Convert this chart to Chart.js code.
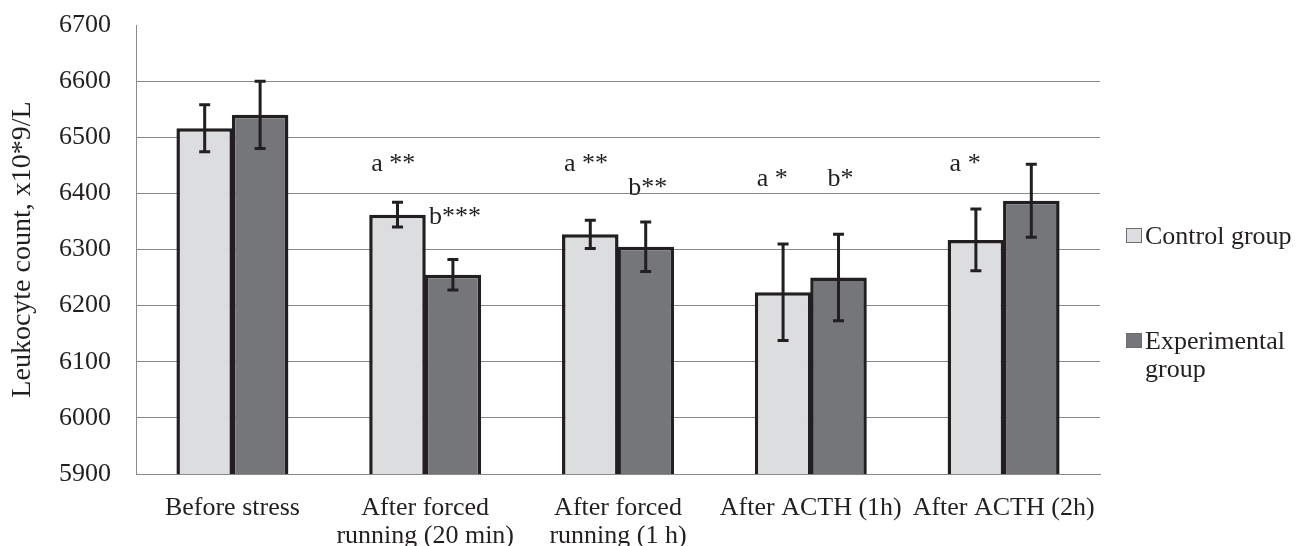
<!DOCTYPE html>
<html>
<head>
<meta charset="utf-8">
<script src="https://cdn.jsdelivr.net/npm/chart.js@4.4.1/dist/chart.umd.min.js"></script>
<style>
  html, body { margin: 0; padding: 0; background: #fff; }
  #wrap { position: relative; width: 1298px; height: 546px; }
</style>
</head>
<body>
<div id="wrap"><canvas id="chart" width="1298" height="546"></canvas></div>
<script>
const categories = [
  'Before stress',
  ['After forced', 'running (20 min)'],
  ['After forced', 'running (1 h)'],
  'After ACTH (1h)',
  'After ACTH (2h)'
];
const controlValues = [6516, 6362, 6327, 6224, 6317];
const controlErrors = [42, 22, 25, 86, 55];
const experimentalValues = [6540, 6255, 6305, 6250, 6387];
const experimentalErrors = [60, 27, 44, 77, 65];
const yTicks = [5900, 6000, 6100, 6200, 6300, 6400, 6500, 6600, 6700];

// significance marks: text, series (0 control, 1 experimental), category, level
const markTexts = ['a **', 'b***', 'a **', 'b**', 'a *', 'b*', 'a *'];
const markSeries = [0, 1, 0, 1, 0, 1, 0];
const markCategory = [1, 1, 2, 2, 3, 3, 4];
const markLevels = [6440, 6345, 6440, 6397, 6413, 6413, 6440];

const FONT = "'Liberation Serif', 'Times New Roman', serif";
const INK = '#231f20';
const CONTROL_FILL = '#dcdddf';
const EXP_FILL = '#75767a';
const GRID = '#898989';

const errorBars = {
  id: 'errorBars',
  afterDatasetsDraw(chart) {
    const ctx = chart.ctx;
    const y = chart.scales.y;
    const errs = [controlErrors, experimentalErrors];
    ctx.save();
    ctx.strokeStyle = INK;
    ctx.lineWidth = 3;
    chart.data.datasets.forEach((ds, i) => {
      chart.getDatasetMeta(i).data.forEach((bar, j) => {
        const v = ds.data[j];
        const top = y.getPixelForValue(v + errs[i][j]);
        const bot = y.getPixelForValue(v - errs[i][j]);
        const x = bar.x;
        ctx.beginPath();
        ctx.moveTo(x, top); ctx.lineTo(x, bot);
        ctx.moveTo(x - 5.5, top); ctx.lineTo(x + 5.5, top);
        ctx.moveTo(x - 5.5, bot); ctx.lineTo(x + 5.5, bot);
        ctx.stroke();
      });
    });
    ctx.restore();
  }
};

const marks = {
  id: 'marks',
  afterDraw(chart) {
    const ctx = chart.ctx;
    const y = chart.scales.y;
    ctx.save();
    ctx.font = '26px ' + FONT;
    ctx.fillStyle = INK;
    ctx.textBaseline = 'alphabetic';
    markTexts.forEach((t, k) => {
      const bar = chart.getDatasetMeta(markSeries[k]).data[markCategory[k]];
      const py = y.getPixelForValue(markLevels[k]);
      if (markSeries[k] === 0) {
        ctx.textAlign = 'left';
        ctx.fillText(t, bar.x - bar.width / 2 + 2, py);
      } else {
        ctx.textAlign = 'center';
        ctx.fillText(t, bar.x + 2, py);
      }
    });
    ctx.restore();
  }
};

const sideLegend = {
  id: 'sideLegend',
  afterDraw(chart) {
    const ctx = chart.ctx;
    const x = chart.chartArea.right + 26;
    ctx.save();
    ctx.font = '26px ' + FONT;
    ctx.fillStyle = INK;
    ctx.textAlign = 'left';
    ctx.textBaseline = 'middle';
    ctx.lineWidth = 1;
    ctx.strokeStyle = '#6d6e71';

    ctx.fillStyle = CONTROL_FILL;
    ctx.fillRect(x, 228, 16, 15);
    ctx.strokeRect(x + 0.5, 228.5, 15, 14);
    ctx.fillStyle = INK;
    ctx.fillText(chart.data.datasets[0].label, x + 19, 237);

    ctx.fillStyle = EXP_FILL;
    ctx.fillRect(x, 333, 16, 15);
    ctx.strokeRect(x + 0.5, 333.5, 15, 14);
    ctx.fillStyle = INK;
    ctx.fillText('Experimental', x + 19, 342);
    ctx.fillText('group', x + 19, 370);
    ctx.restore();
  }
};

new Chart(document.getElementById('chart'), {
  type: 'bar',
  data: {
    labels: categories,
    datasets: [
      {
        label: 'Control group',
        data: controlValues,
        backgroundColor: CONTROL_FILL,
        borderColor: INK,
        borderWidth: 3.5,
        borderSkipped: false,
        categoryPercentage: 0.575,
        barPercentage: 1.02
      },
      {
        label: 'Experimental group',
        data: experimentalValues,
        backgroundColor: EXP_FILL,
        borderColor: INK,
        borderWidth: 3.5,
        borderSkipped: false,
        categoryPercentage: 0.575,
        barPercentage: 1.02
      }
    ]
  },
  options: {
    responsive: false,
    animation: false,
    devicePixelRatio: 1,
    layout: { padding: { top: 25, right: 198, left: 0, bottom: 0 } },
    plugins: {
      legend: { display: false },
      tooltip: { enabled: false }
    },
    scales: {
      x: {
        grid: { display: false },
        border: { color: GRID, width: 1 },
        ticks: {
          color: INK,
          font: { family: FONT, size: 26, lineHeight: 1.08 },
          padding: 12,
          maxRotation: 0,
          autoSkip: false
        },
        afterFit(scale) {
          scale.height = 72;
          scale.paddingLeft = 0;
          scale.paddingRight = 0;
        }
      },
      y: {
        min: 5900,
        max: 6700,
        afterBuildTicks(scale) { scale.ticks = yTicks.map(v => ({ value: v })); },
        grid: {
          drawTicks: false,
          color: ctx => (ctx.tick && ctx.tick.value === 6700 ? 'rgba(0,0,0,0)' : GRID),
          lineWidth: 1
        },
        border: { color: GRID, width: 1 },
        ticks: {
          color: INK,
          font: { family: FONT, size: 26 },
          padding: 25,
          callback: v => String(v)
        },
        title: {
          display: true,
          text: 'Leukocyte count, x10*9/L',
          color: INK,
          font: { family: FONT, size: 28 },
          padding: { top: 6, bottom: 0 }
        },
        afterFit(scale) {
          scale.width = 136;
          scale.paddingTop = 0;
          scale.paddingBottom = 0;
        }
      }
    }
  },
  plugins: [errorBars, marks, sideLegend]
});
</script>
</body>
</html>
